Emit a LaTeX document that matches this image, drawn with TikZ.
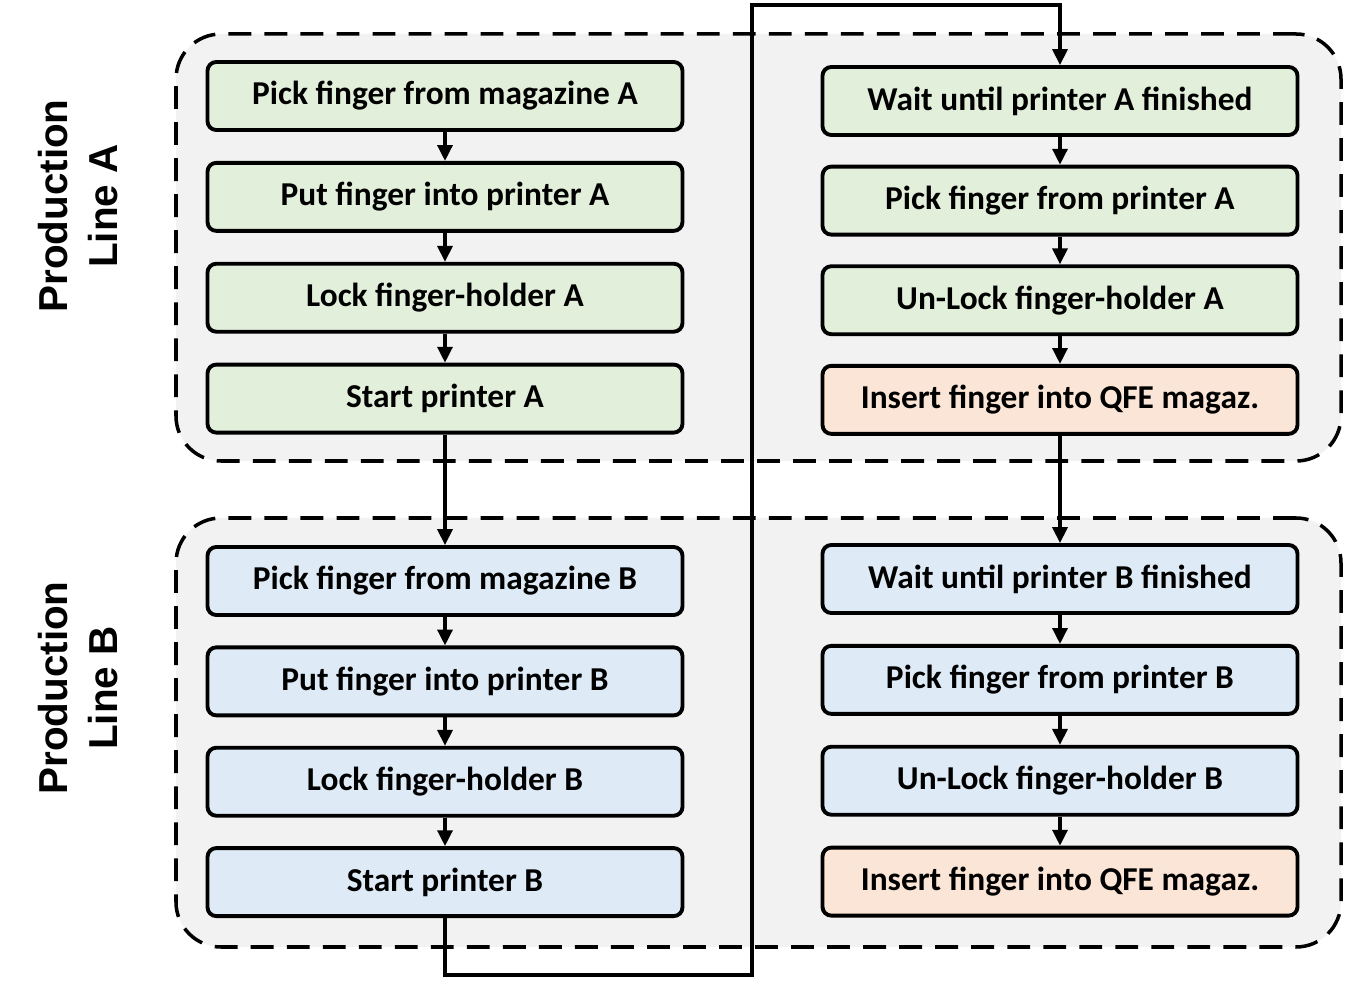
\documentclass[tikz,border=0pt]{standalone}
\usepackage{fontspec}
\setmainfont{Carlito}
\newfontfamily\linefont{Liberation Sans}
\usepackage{tikz}
\usetikzlibrary{arrows.meta, positioning}
\definecolor{stepgreen}{HTML}{E2EFDA}
\definecolor{stepblue}{HTML}{DEEBF7}
\definecolor{steporange}{HTML}{FBE5D6}
\definecolor{linegray}{HTML}{F2F2F2}
\tikzset{
    block/.style={rectangle, draw, line width=2.2pt, rounded corners=5pt, minimum width=9.5cm, minimum height=1.36cm, align=center, font=\fontsize{19}{22}\selectfont\bfseries},
    group/.style={rectangle, draw, fill=linegray, line width=2pt, dash pattern=on 13pt off 7.5pt, rounded corners=0.9cm, minimum width=23.3cm},
    linelabel/.style={rotate=90, align=center, font=\linefont\fontsize{23}{28.5}\selectfont\bfseries},
    arrow/.style={-{Triangle[length=9pt, width=8.5pt]}, line width=1.9pt},
}

\begin{document}
\begin{tikzpicture}[node distance=0.58cm]
    \useasboundingbox (0,0) rectangle (26.92,-19.7);
    % production line frames
    \node[group, minimum height=8.54cm] (lineA) at (15.17,-4.95) {};
    \node[group, minimum height=8.58cm] (lineB) at (15.17,-14.65) {};
    \node[linelabel] (labA) at (1.56,-4.12) {Production\\Line A};
    \node[linelabel] (labB) at (1.56,-13.76) {Production\\Line B};
    % loop back from line B to line A
    \coordinate (loopbot) at (15.04,-19.5);
    \coordinate (looptop) at (15.04,-0.1);
    % line A
    \node[block, fill=stepgreen] (pickA) at (8.9,-1.92) {Pick finger from magazine A};
    \node[block, below=of pickA, fill=stepgreen] (putA) {Put finger into printer A};
    \node[block, below=of putA, fill=stepgreen] (lockA) {Lock finger-holder A};
    \node[block, below=of lockA, fill=stepgreen] (startA) {Start printer A};
    \node[block, fill=stepgreen] (waitA) at (21.2,-2.02) {Wait until printer A finished};
    \node[block, below=0.555cm of waitA, fill=stepgreen] (fetchA) {Pick finger from printer A};
    \node[block, below=0.555cm of fetchA, fill=stepgreen] (unlockA) {Un-Lock finger-holder A};
    \node[block, below=0.555cm of unlockA, fill=steporange] (insertA) {Insert finger into QFE magaz.};
    % line B
    \node[block, fill=stepblue] (pickB) at (8.9,-11.62) {Pick finger from magazine B};
    \node[block, below=0.57cm of pickB, fill=stepblue] (putB) {Put finger into printer B};
    \node[block, below=0.57cm of putB, fill=stepblue] (lockB) {Lock finger-holder B};
    \node[block, below=0.57cm of lockB, fill=stepblue] (startB) {Start printer B};
    \node[block, fill=stepblue] (waitB) at (21.2,-11.58) {Wait until printer B finished};
    \node[block, below=of waitB, fill=stepblue] (fetchB) {Pick finger from printer B};
    \node[block, below=of fetchB, fill=stepblue] (unlockB) {Un-Lock finger-holder B};
    \node[block, below=of unlockB, fill=steporange] (insertB) {Insert finger into QFE magaz.};
    \draw[arrow] (pickA) -- (putA);
    \draw[arrow] (putA) -- (lockA);
    \draw[arrow] (lockA) -- (startA);
    \draw[arrow] (waitA) -- (fetchA);
    \draw[arrow] (fetchA) -- (unlockA);
    \draw[arrow] (unlockA) -- (insertA);
    \draw[arrow] (pickB) -- (putB);
    \draw[arrow] (putB) -- (lockB);
    \draw[arrow] (lockB) -- (startB);
    \draw[arrow] (waitB) -- (fetchB);
    \draw[arrow] (fetchB) -- (unlockB);
    \draw[arrow] (unlockB) -- (insertB);
    \draw[arrow] (startA) -- (pickB);
    \draw[arrow] (insertA) -- (waitB);
    \draw[arrow] (startB.south) |- (loopbot) -- (looptop) -| (waitA.north);
\end{tikzpicture}
\end{document}
